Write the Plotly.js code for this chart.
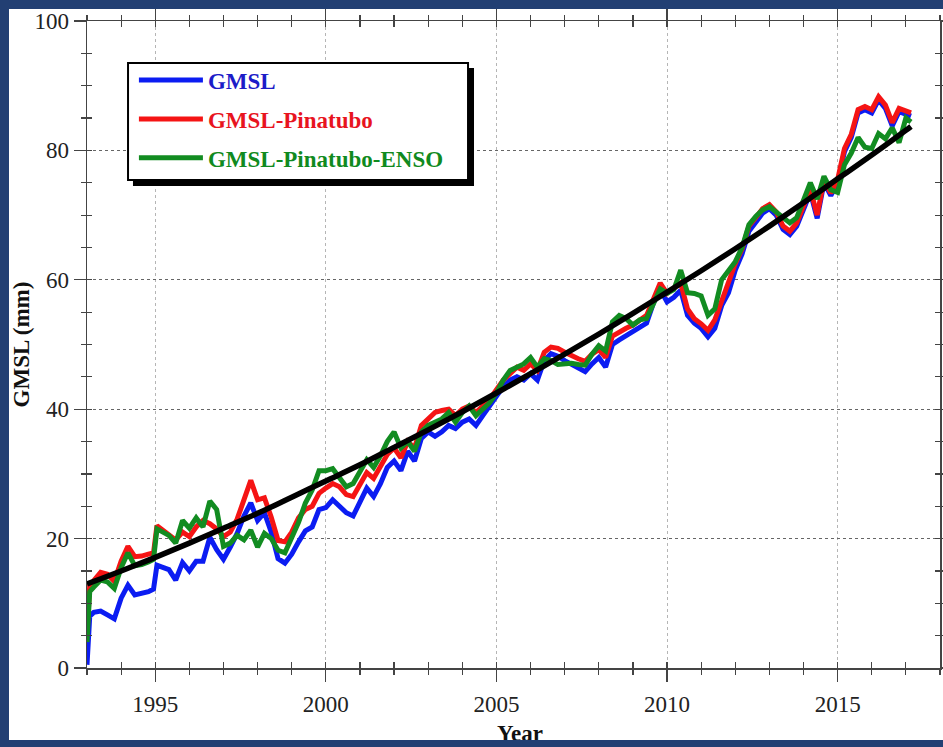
<!DOCTYPE html>
<html><head><meta charset="utf-8">
<script src="https://cdn.plot.ly/plotly-3.0.1.min.js"></script>
<style>
html,body{margin:0;padding:0;background:#223f73;width:943px;height:747px;overflow:hidden;}
#chart{position:absolute;left:9px;top:9px;width:934px;height:731px;background:#fff;}
</style></head><body><div id="chart"></div><script>
const years = [
 1993.0,1993.08,1993.2,1993.4,1993.6,1993.8,
 1994.0,1994.2,1994.4,1994.6,1994.8,1994.95,
 1995.05,1995.2,1995.4,1995.6,1995.8,
 1996.0,1996.2,1996.4,1996.6,1996.8,
 1997.0,1997.2,1997.4,1997.6,1997.8,
 1998.0,1998.2,1998.4,1998.6,1998.8,
 1999.0,1999.2,1999.4,1999.6,1999.8,
 2000.0,2000.2,2000.4,2000.6,2000.8,
 2001.0,2001.2,2001.4,2001.6,2001.8,
 2002.0,2002.2,2002.4,2002.6,2002.8,
 2003.0,2003.2,2003.4,2003.6,2003.8,
 2004.0,2004.2,2004.4,2004.6,2004.8,
 2005.0,2005.2,2005.4,2005.6,2005.8,
 2006.0,2006.2,2006.4,2006.6,2006.8,
 2007.0,2007.2,2007.4,2007.6,2007.8,
 2008.0,2008.2,2008.4,2008.6,2008.8,
 2009.0,2009.2,2009.4,2009.6,2009.8,
 2010.0,2010.2,2010.4,2010.6,2010.8,
 2011.0,2011.2,2011.4,2011.6,2011.8,
 2012.0,2012.2,2012.4,2012.6,2012.8,
 2013.0,2013.2,2013.4,2013.6,2013.8,
 2014.0,2014.2,2014.4,2014.6,2014.8,
 2015.0,2015.2,2015.4,2015.6,2015.8,
 2016.0,2016.2,2016.4,2016.6,2016.8,
 2017.0,2017.15];

const gmsl = [
 0.5,8.0,8.6,8.8,8.2,7.6,
 10.8,12.8,11.3,11.5,11.8,12.2,
 15.9,15.6,15.2,13.6,16.3,
 15.0,16.5,16.5,20.2,18.3,
 16.8,18.7,20.8,23.5,25.5,
 22.8,24.0,21.0,16.9,16.2,
 17.6,19.5,21.2,21.8,24.5,
 24.8,26.0,25.0,24.0,23.5,
 25.8,27.8,26.5,28.5,31.0,
 32.0,30.5,33.5,32.0,35.5,
 36.5,35.8,36.5,37.5,37.0,
 38.0,38.5,37.5,39.0,40.5,
 42.0,43.5,44.5,45.0,44.5,
 45.5,44.5,47.5,48.6,48.2,
 47.5,46.9,46.4,45.8,47.0,
 48.0,46.5,50.0,50.7,51.3,
 52.0,52.5,53.3,56.4,58.5,
 56.6,57.3,58.4,54.5,53.3,
 52.5,51.2,52.5,56.0,58.0,
 61.5,64.0,67.5,69.0,70.3,
 71.0,70.0,67.8,67.0,68.3,
 71.0,73.5,69.5,75.0,73.0,
 75.0,79.8,82.0,85.8,86.3,
 85.8,87.8,86.5,83.8,86.0,
 85.5,85.3];

const gmslPinatubo = [
 5.0,12.8,13.5,14.8,14.5,13.4,
 16.5,18.8,17.2,17.3,17.6,17.8,
 22.0,21.4,20.8,19.8,21.0,
 20.3,21.8,22.8,22.3,21.5,
 20.3,21.0,23.0,25.8,29.0,
 26.0,26.3,23.3,19.7,19.5,
 21.0,23.2,24.5,25.0,27.0,
 27.8,28.5,28.0,26.8,26.5,
 28.5,30.2,29.3,31.0,33.0,
 34.0,32.5,35.0,34.0,37.5,
 38.5,39.5,39.8,40.0,39.0,
 40.0,40.5,39.5,40.5,41.5,
 43.0,44.5,45.5,46.5,46.0,
 47.0,46.0,48.8,49.6,49.4,
 48.8,48.2,47.8,47.4,48.5,
 49.2,48.0,51.3,52.0,52.5,
 53.0,53.8,54.5,57.0,59.5,
 57.9,58.6,59.5,55.5,54.0,
 53.2,52.2,53.8,56.8,59.5,
 62.5,64.8,68.3,69.6,71.0,
 71.6,70.5,68.3,67.5,68.8,
 71.5,74.0,70.0,75.4,73.4,
 75.5,80.3,82.5,86.3,86.8,
 86.3,88.3,87.0,84.3,86.5,
 86.0,85.8];

const gmslPinatuboEnso = [
 4.0,11.8,12.5,13.6,13.3,12.3,
 15.5,17.8,15.8,16.0,16.4,16.8,
 21.5,21.0,20.5,19.3,22.8,
 21.6,23.2,21.8,25.8,24.5,
 18.8,19.3,20.5,19.8,21.3,
 18.7,20.8,20.0,18.2,17.8,
 20.0,22.5,25.5,27.5,30.5,
 30.5,30.8,29.5,28.0,28.5,
 30.5,32.2,31.0,32.8,35.0,
 36.5,34.0,35.0,33.5,36.5,
 37.5,38.0,38.5,39.5,38.0,
 39.5,40.5,39.0,40.0,41.0,
 42.5,44.5,46.0,46.5,47.0,
 48.0,46.5,47.8,47.5,46.9,
 47.0,47.1,46.9,46.8,48.5,
 49.8,49.0,53.5,54.5,54.0,
 53.0,53.8,54.0,56.4,58.6,
 57.9,58.5,61.5,58.0,57.9,
 57.5,54.5,55.5,60.0,61.3,
 62.8,65.0,68.5,69.8,70.8,
 71.3,70.5,69.5,68.8,69.6,
 72.5,75.0,72.5,76.0,73.9,
 73.5,77.8,79.6,82.0,80.5,
 80.3,82.6,81.8,83.5,81.2,
 85.0,84.4];

const fitYears = [1993,1994,1995,1996,1997,1998,1999,2000,2001,2002,2003,2004,2005,
  2006,2007,2008,2009,2010,2011,2012,2013,2014,2015,2016,2017,2017.15];
const fitValues = [13.0,15.0,17.1,19.3,21.6,23.9,26.4,28.9,31.4,34.1,36.8,39.6,42.5,
  45.5,48.5,51.6,54.8,58.1,61.4,64.8,68.3,71.9,75.6,79.3,83.1,83.7];

const seriesNames = ['GMSL','GMSL-Pinatubo','GMSL-Pinatubo-ENSO'];
const lineColors = ['#0b1cf2','#f51414','#128c21'];
const textColors = ['#1c1cc8','#e8141e','#108a20'];
const xTicks = [1995,2000,2005,2010,2015];
const yTicks = [0,20,40,60,80,100];
const xTitle = 'Year';
const yTitle = 'GMSL (mm)';

const serif = 'Liberation Serif, Times New Roman, serif';
const seriesData = [gmsl, gmslPinatubo, gmslPinatuboEnso];
const traces = seriesData.map((vals,i)=>({
  x: years, y: vals, type:'scatter', mode:'lines',
  name: '<span style="color:'+textColors[i]+'">'+seriesNames[i]+'</span>',
  line:{color:lineColors[i], width:5}, legendgroup:'g'+i
}));
traces.push({x:fitYears, y:fitValues, type:'scatter', mode:'lines', line:{color:'#000', width:5.5, shape:'spline'}, showlegend:false});
traces.push({x:[], y:[], xaxis:'x2', yaxis:'y2', type:'scatter', mode:'lines', showlegend:false, hoverinfo:'skip'});

const axCol = '#444';
const layout = {
  width:934, height:731,
  margin:{l:78, r:3, t:12, b:72},
  paper_bgcolor:'#fff', plot_bgcolor:'#fff',
  font:{family:serif, size:23, color:'#222'},
  showlegend:true,
  xaxis:{range:[1993,2018], tickmode:'array', tickvals:xTicks, ticktext:xTicks.map(String),
    ticks:'outside', ticklen:12, tickwidth:1.3, tickcolor:axCol,
    showline:true, linecolor:axCol, linewidth:1.5, mirror:'ticks',
    showgrid:true, gridcolor:'#b5b5b5', griddash:'dot', gridwidth:1, zeroline:false,
    minor:{dtick:1, tick0:1993, ticks:'outside', ticklen:5, tickwidth:1.2, tickcolor:axCol, showgrid:false},
    ticklabelstandoff:3, title:{text:''}, fixedrange:true},
  yaxis:{range:[0,100], tickmode:'array', tickvals:yTicks, ticktext:yTicks.map(String),
    ticks:'outside', ticklen:12, tickwidth:1.3, tickcolor:axCol,
    showline:true, linecolor:axCol, linewidth:1.5, mirror:'ticks',
    showgrid:true, gridcolor:'#666', griddash:'dot', gridwidth:1, zeroline:false,
    minor:{dtick:5, tick0:0, ticks:'outside', ticklen:5, tickwidth:1.2, tickcolor:axCol, showgrid:false},
    title:{text:'<b>'+yTitle+'</b>', font:{family:serif, size:23, color:'#111'}, standoff:8}, fixedrange:true},
  xaxis2:{overlaying:'x', anchor:'y2', range:[1993,2018], tickmode:'array', tickvals:xTicks,
    ticks:'inside', ticklen:6, tickwidth:1.3, tickcolor:axCol, mirror:'ticks', showline:false,
    showgrid:false, showticklabels:false, zeroline:false,
    minor:{dtick:1, tick0:1993, ticks:'inside', ticklen:6, tickwidth:1.2, tickcolor:axCol, showgrid:false}, fixedrange:true},
  yaxis2:{overlaying:'y', anchor:'x2', range:[0,100], tickmode:'array', tickvals:yTicks,
    ticks:'inside', ticklen:5, tickwidth:1.3, tickcolor:axCol, mirror:'ticks', showline:false,
    showgrid:false, showticklabels:false, zeroline:false,
    minor:{dtick:5, tick0:0, ticks:'inside', ticklen:5, tickwidth:1.2, tickcolor:axCol, showgrid:false}, fixedrange:true},
  legend:{x:0.055, y:0.942, xanchor:'left', yanchor:'top', bgcolor:'rgba(0,0,0,0)', borderwidth:0,
    font:{family:serif, size:23, weight:'bold'}, itemwidth:64, traceorder:'grouped', tracegroupgap:6},
  annotations:[
    {text:'<b>'+xTitle+'</b>', xref:'paper', yref:'paper', x:0.508, y:-0.079, xanchor:'center', yanchor:'top',
     showarrow:false, font:{family:serif, size:23, color:'#111'}}
  ],
  shapes:[
    {type:'rect', xref:'paper', yref:'paper', x0:0.0539, x1:0.4537, y0:0.745, y1:0.9274, fillcolor:'#000', line:{width:0}, layer:'above'},
    {type:'rect', xref:'paper', yref:'paper', x0:0.0481, x1:0.4467, y0:0.7543, y1:0.9351, fillcolor:'#fff', line:{color:'#000', width:2}, layer:'above'}
  ]
};
Plotly.newPlot('chart', traces, layout, {displayModeBar:false, staticPlot:true});
</script></body></html>
